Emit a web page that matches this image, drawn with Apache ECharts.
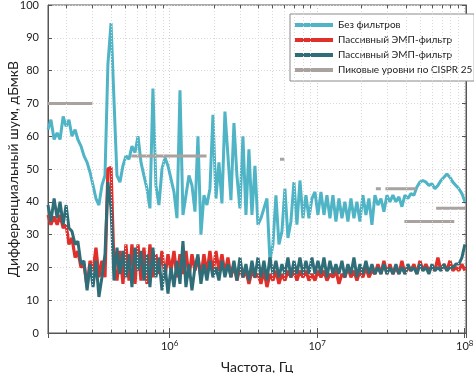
<!DOCTYPE html>
<html>
<head>
<meta charset="utf-8">
<script src="https://cdn.jsdelivr.net/npm/echarts@6/dist/echarts.min.js"></script>
<style>
html,body{margin:0;padding:0;background:#fff;}
#chart{width:474px;height:373px;}
</style>
</head>
<body>
<div id="chart"></div>
<script>
// Frequency sweep points (Hz)
const freqs = [
1.50e5,1.57e5,1.65e5,1.73e5,1.81e5,1.90e5,1.99e5,2.08e5,2.18e5,2.29e5,
2.39e5,2.51e5,2.63e5,2.76e5,2.89e5,3.03e5,3.17e5,3.32e5,3.48e5,3.65e5,
3.82e5,4.01e5,4.20e5,4.40e5,4.61e5,4.83e5,5.06e5,5.31e5,5.56e5,5.83e5,
6.11e5,6.40e5,6.70e5,7.03e5,7.36e5,7.71e5,8.08e5,8.47e5,8.88e5,9.30e5,
9.75e5,1.022e6,1.071e6,1.122e6,1.176e6,1.232e6,1.291e6,1.353e6,1.418e6,1.486e6,
1.557e6,1.631e6,1.709e6,1.791e6,1.877e6,1.967e6,2.061e6,2.160e6,2.264e6,2.372e6,
2.486e6,2.605e6,2.730e6,2.860e6,2.997e6,3.141e6,3.292e6,3.449e6,3.615e6,3.788e6,
3.969e6,4.159e6,4.359e6,4.568e6,4.786e6,5.016e6,5.256e6,5.508e6,5.772e6,6.048e6,
6.338e6,6.642e6,6.961e6,7.294e6,7.644e6,8.010e6,8.394e6,8.796e6,9.217e6,9.659e6,
1.012e7,1.061e7,1.112e7,1.165e7,1.221e7,1.279e7,1.340e7,1.405e7,1.472e7,1.542e7,
1.616e7,1.694e7,1.775e7,1.860e7,1.949e7,2.042e7,2.140e7,2.243e7,2.350e7,2.463e7,
2.581e7,2.705e7,2.834e7,2.970e7,3.112e7,3.261e7,3.418e7,3.581e7,3.753e7,3.933e7,
4.121e7,4.319e7,4.526e7,4.742e7,4.970e7,5.208e7,5.457e7,5.719e7,5.993e7,6.280e7,
6.581e7,6.896e7,7.226e7,7.573e7,7.935e7,8.316e7,8.714e7,9.131e7,9.569e7,1.0027e8
];

// Без фильтров (dBµV)
const noFilter = [
62,65,59,61,59,66,63,65,60,62,
59,57,54,52,49,45,41,39,45,48,
82,94.5,71,48,46,51,54,53,57,55,
60,52,48,44,38,74.5,45,39,50,53.5,
51,47,43,35,74,36,42,48,45,37,
60,30,42,39,44,66.5,41,52,39.5,67.5,
54,40.5,64,48,38,60,36,56,36,51,
33,35,38,41,22,27,42,27,31,44,
29,34,46,33,46.5,35,42,35,41,43,
36,43,36,42,35,42,34,41,35,40,
34,41,35,40,34,42,36,41,33,42,
39,41,37,42,40,42,40,41.5,38.5,42,
41,42.5,42,44.5,46,46.5,46,45,45.5,44,
45,46.5,47.5,48.5,47.5,46,45,44,42.5,40
];

// Пассивный ЭМП-фильтр (red)
const passiveA = [
36,33,35.5,33,36,32,33,27,29,23,
25,20,21,14,22,19,26,17,22,17,
50,50.5,20,16,25,15,27,16,27,15,
27,16,26,15,27,17,24,18,25,17,
24,19,25,17,24,18,25,17,24,19,
23,17,24,18,25,18,25,19,24,18,
23,17,21,16,20,17,19,15,19,17,
18,15,19,14,18,16,19,15,18,16,
19,17,19,16,19,17,19,16,18,16,
19,17,19,16,18,17,19,15,18,17,
20,17,19,16,19,17,20,17,19,18,
21,18,22,18,21,18,20,18,22,18,
20,19,21,18,22,19,21,19,20,19,
23,19,21,19,22,19,20,19,21,19
];

// Пассивный ЭМП-фильтр (dark teal)
const passiveB = [
39,34,41,35,40,33,39,32,31,27,
28,21,22,13,21,14,22,11,17,24,
46,38,16,26,18,25,17,24,14,26,
19,25,16,24,14,26,17,23,13,21,
12,20,14,22,15,28,14,21,13,20,
24,15,21,16,22,17,20,16,22,17,
21,17,22,16,23,17,21,16,22,17,
23,17,22,16,23,18,22,17,21,18,
23,17,22,18,23,18,22,18,23,18,
22,18,23,17,22,18,21,18,22,17,
21,18,23,17,21,18,22,18,21,18,
20,18,21,18,20,18,21,18,20,18,
21,19,20,18,21,19,20,18,21,19,
20,19,21,19,20,20,21,21,23,27
];

// CISPR 25 peak limit segments
const limitStart = [1.5e5, 5.5e5, 5.6e6, 2.5e7, 2.9e7, 3.9e7, 6.4e7];
const limitEnd   = [3.0e5, 1.78e6, 6.0e6, 2.7e7, 4.7e7, 8.5e7, 1.02e8];
const limitLevel = [70, 54, 53, 44, 44, 34, 38];

// Minor log grid positions
const minorFreqs = [2e5,3e5,4e5,5e5,6e5,7e5,8e5,9e5,
                    2e6,3e6,4e6,5e6,6e6,7e6,8e6,9e6,
                    2e7,3e7,4e7,5e7,6e7,7e7,8e7,9e7];

const seriesNames = ['s0','s1','s2','s3'];
const legendLabels = {
  s0: 'Без фильтров',
  s1: 'Пассивный ЭМП-фильтр',
  s2: 'Пассивный ЭМП-фильтр',
  s3: 'Пиковые уровни по CISPR 25'
};
const colors = {s0:'#4fb4c5', s1:'#e0302c', s2:'#2f6e78', s3:'#a9a29e'};

const xMin = 1.5e5, xMax = 1.02e8;
const FONT = 'Lato';

function pairs(vals){ return freqs.map((f,i)=>[f, vals[i]]); }

const series = [];
series.push({
  type:'line', data:[], silent:true, xAxisIndex:0, yAxisIndex:0,
  markLine:{
    silent:true, symbol:['none','none'], animation:false,
    label:{show:false},
    lineStyle:{color:'#d9d9d9', type:[1,2], width:1},
    data: minorFreqs.map(f=>({xAxis:f}))
  }
});
series.push({
  type:'line', data:[], silent:true, xAxisIndex:0, yAxisIndex:0,
  markLine:{
    silent:true, symbol:['none','none'], animation:false,
    label:{show:false},
    lineStyle:{color:'#555', type:'solid', width:1},
    data: minorFreqs.map(f=>[{coord:[f,0]},{coord:[f,1]}])
      .concat(minorFreqs.map(f=>[{coord:[f,100]},{coord:[f,99]}]))
  }
});
series.push({
  name:'s0', type:'line', data:pairs(noFilter), showSymbol:false,
  lineStyle:{width:3, color:colors.s0}, itemStyle:{color:colors.s0}
});
limitStart.forEach((s,k)=>{
  series.push({
    name:'s3', type:'line', showSymbol:false,
    data:[[s, limitLevel[k]],[limitEnd[k], limitLevel[k]]],
    lineStyle:{width:3, color:colors.s3}, itemStyle:{color:colors.s3}
  });
});
series.push({
  name:'s1', type:'line', data:pairs(passiveA), showSymbol:false,
  lineStyle:{width:3.2, color:colors.s1}, itemStyle:{color:colors.s1}
});
series.push({
  name:'s2', type:'line', data:pairs(passiveB), showSymbol:false,
  lineStyle:{width:3, color:colors.s2}, itemStyle:{color:colors.s2}
});

const chart = echarts.init(document.getElementById('chart'), null, {renderer:'canvas'});
chart.setOption({
  animation:false,
  backgroundColor:'#fff',
  textStyle:{fontFamily:FONT},
  grid:{left:48, right:8, top:5, bottom:40, show:true, borderColor:'#555', borderWidth:1,
        backgroundColor:'transparent', containLabel:false, outerBoundsMode:'none'},
  legend:{
    data:seriesNames, orient:'vertical', left:290, top:14,
    backgroundColor:'#fff', borderColor:'#8a8a8a', borderWidth:1,
    padding:[6,2,6,5], itemGap:5, itemWidth:38, itemHeight:4, icon:'rect',
    formatter:n=>legendLabels[n],
    textStyle:{fontFamily:FONT, fontSize:10, color:'#222'}
  },
  xAxis:[{
    type:'log', logBase:10, min:xMin, max:xMax, position:'bottom',
    name:'Частота, Гц', nameLocation:'middle', nameGap:27, nameMoveOverlap:false,
    nameTextStyle:{fontFamily:FONT, fontSize:14, color:'#222'},
    axisLine:{lineStyle:{color:'#555'}},
    axisTick:{inside:true, length:5, lineStyle:{color:'#555'}},
    splitLine:{show:true, lineStyle:{color:'#cfcfcf', type:[1,2]}},
    axisLabel:{
      margin:6, color:'#222',
      formatter:v=>{
        const e = Math.round(Math.log10(v));
        if (Math.abs(Math.log10(v)-e) > 1e-6) return '';
        return '{b|10}{s|'+e+'}';
      },
      rich:{
        b:{fontFamily:FONT, fontSize:11, color:'#222'},
        s:{fontFamily:FONT, fontSize:8, color:'#222', padding:[0,0,7,0]}
      }
    }
  },{
    type:'log', logBase:10, min:xMin, max:xMax, position:'top',
    axisLine:{lineStyle:{color:'#555'}},
    axisTick:{inside:true, length:5, lineStyle:{color:'#555'}},
    axisLabel:{show:false}, splitLine:{show:false}
  }],
  yAxis:[{
    type:'value', min:0, max:100, interval:10,
    name:'Дифференциальный шум, дБмкВ', nameLocation:'middle', nameGap:28, nameMoveOverlap:false,
    nameTextStyle:{fontFamily:FONT, fontSize:14, color:'#222'},
    axisLine:{show:true, lineStyle:{color:'#555'}},
    axisTick:{show:true, inside:true, length:4, lineStyle:{color:'#555'}},
    axisLabel:{fontFamily:FONT, fontSize:11, color:'#222', margin:9},
    splitLine:{show:true, lineStyle:{color:'#d9d9d9', type:[1,2]}}
  },{
    type:'value', min:0, max:100, interval:10, position:'right',
    axisLine:{show:true, lineStyle:{color:'#555'}},
    axisTick:{show:true, inside:true, length:4, lineStyle:{color:'#555'}},
    axisLabel:{show:false}, splitLine:{show:false}
  }],
  series:series
});
</script>
</body>
</html>
